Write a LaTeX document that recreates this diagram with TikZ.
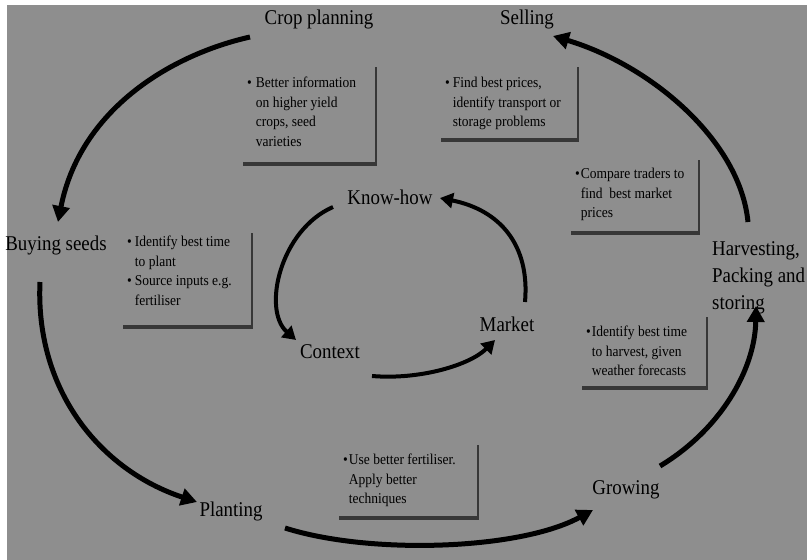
\documentclass[tikz,border=0pt]{standalone}
\usepackage{fontspec}
\setmainfont[FakeStretch=0.9]{Liberation Serif}
\usetikzlibrary{arrows.meta}
\definecolor{bggray}{RGB}{142,142,142}
\definecolor{shadowgray}{RGB}{55,55,55}
\newcommand\lblfont{\fontsize{21}{27}\selectfont}
\newcommand\infofont{\fontsize{15}{19.5}\selectfont}
\tikzset{
  lbl/.style={font=\lblfont, inner sep=0pt, text=black},
  info/.style={font=\infofont, inner sep=0pt, anchor=base west, text=black},
  bigarrow/.style={line width=5pt, -{Triangle[length=16pt,width=17pt]}},
  smallarrow/.style={line width=4pt, -{Triangle[length=13pt,width=15pt]}},
  shadowright/.style={draw=shadowgray, line width=2.5pt},
  shadowbottom/.style={draw=shadowgray, line width=4pt},
}
\newcommand\shbox[4]{% left, top, right, bottom
  \draw[shadowright] (#3,#2) -- (#3,#4);
  \draw[shadowbottom] (#1,#4) -- (#3+1.25,#4);
}
\begin{document}
\begin{tikzpicture}[x=1pt,y=-1pt]
\useasboundingbox (0,0) rectangle (807,560);
\fill[white] (0,0) rectangle (807,560);
\fill[bggray] (7,5) rectangle (807,560);

% shadows of the info boxes
\shbox{243}{67}{376}{164}
\shbox{441}{67}{578}{140}
\shbox{571}{160}{699}{233}
\shbox{123}{233}{252}{327}
\shbox{582}{317}{707}{388}
\shbox{339}{445}{478}{518}

% info texts
\node[info] (i1) at (247,87.5) {\begin{tabular}[t]{@{}l@{\hspace{4pt}}l@{}}\textbullet & Better information\\ & on higher yield\\ & crops, seed\\ & varieties\end{tabular}};
\node[info] (i2) at (445,87.5) {\begin{tabular}[t]{@{}l@{\hspace{3pt}}l@{}}\textbullet & Find best prices,\\ & identify transport or\\ & storage problems\end{tabular}};
\node[info] (i3) at (575,178.5) {\begin{tabular}[t]{@{}l@{\hspace{1pt}}l@{}}\textbullet & Compare traders to\\ & find\ \ best market\\ & prices\end{tabular}};
\node[info] (i4) at (127,246.5) {\begin{tabular}[t]{@{}l@{\hspace{3pt}}l@{}}\textbullet & Identify best time\\ & to plant\\ \textbullet & Source inputs e.g.\\ & fertiliser\end{tabular}};
\node[info] (i5) at (586,336.5) {\begin{tabular}[t]{@{}l@{\hspace{1pt}}l@{}}\textbullet & Identify best time\\ & to harvest, given\\ & weather forecasts\end{tabular}};
\node[info] (i6) at (343,464.5) {\begin{tabular}[t]{@{}l@{\hspace{1pt}}l@{}}\textbullet & Use better fertiliser.\\ & Apply better\\ & techniques\end{tabular}};

% stage labels
\node[lbl] (crop) at (319,19) {Crop planning};
\node[lbl] (sell) at (527,19) {Selling};
\node[lbl] (buy) at (56,245) {Buying seeds};
\node[lbl, align=left, anchor=west] (harv) at (712,278) {Harvesting,\\Packing and\\storing};
\node[lbl] (plant) at (231,511) {Planting};
\node[lbl] (grow) at (626,490) {Growing};
\node[lbl] (know) at (390,197) {Know-how};
\node[lbl] (ctx) at (330,352) {Context};
\node[lbl] (mkt) at (507,324) {Market};

% arrow end points
\coordinate (cpS) at (250,37);
\coordinate (bsE) at (58,222);
\coordinate (bsS) at (40,282);
\coordinate (plE) at (197,502);
\coordinate (plS) at (285,528);
\coordinate (grE) at (593,510);
\coordinate (grS) at (660,466);
\coordinate (hvE) at (756,306);
\coordinate (hvS) at (748,222);
\coordinate (seE) at (553,36);
\coordinate (khS) at (333,207);
\coordinate (cxE) at (296,340);
\coordinate (cxS) at (372,376);
\coordinate (mkE) at (495,340);
\coordinate (mkS) at (525,302);
\coordinate (khE) at (440,198);

% outer cycle
\draw[bigarrow] (cpS) .. controls (170,55) and (80,110) .. (bsE);
\draw[bigarrow] (bsS) .. controls (35,390) and (100,470) .. (plE);
\draw[bigarrow] (plS) .. controls (370,555) and (520,550) .. (grE);
\draw[bigarrow] (grS) .. controls (720,430) and (755,370) .. (hvE);
\draw[bigarrow] (hvS) .. controls (740,140) and (650,65) .. (seE);

% inner cycle
\draw[smallarrow] (khS) .. controls (280,230) and (262,310) .. (cxE);
\draw[smallarrow] (cxS) .. controls (420,380) and (470,365) .. (mkE);
\draw[smallarrow] (mkS) .. controls (530,245) and (500,210) .. (khE);
\end{tikzpicture}
\end{document}
